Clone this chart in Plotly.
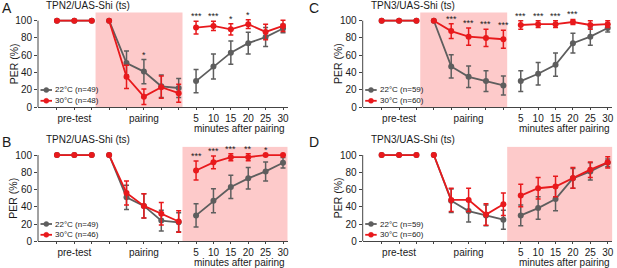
import plotly.graph_objects as go

W, H = 617, 268

# ---------------- data ----------------
pre_x = [0, 1, 2]
pair_x = [3, 4, 5, 6, 7]
post_x = [8, 9, 10, 11, 12, 13]
post_labels = ["5", "10", "15", "20", "25", "30"]

# Panel A: TPN2, silencing during pairing
A_gray_pre = [100, 100, 100]
A_gray_pair = [100, 51, 41, 24, 22]
A_gray_post = [30, 47, 63, 74, 81, 91]
A_gray_pair_err = [0, 14, 14, 13, 11]
A_gray_post_err = [13.5, 14.5, 13.5, 12.5, 11, 5]
A_red_pre = [100, 100, 100]
A_red_pair = [100, 35, 12, 23, 16]
A_red_post = [92, 94, 90, 96, 87, 94]
A_red_pair_err = [0, 13.5, 9, 13, 10.5]
A_red_post_err = [7.5, 5.5, 6.5, 5, 9, 6.5]
A_stars = {5: "*", 8: "***", 9: "***", 10: "*", 11: "*"}

# Panel B: TPN2, silencing after pairing
B_gray_pre = [100, 100, 100]
B_gray_pair = [100, 51, 41, 24, 22]
B_gray_post = [30, 47, 63, 73, 81, 91]
B_gray_pair_err = [0, 14, 14, 12, 11]
B_gray_post_err = [13.5, 14, 13.5, 12.5, 11, 6]
B_red_pre = [100, 100, 100]
B_red_pair = [100, 56, 41, 32, 23]
B_red_post = [82, 91.5, 97.5, 97.5, 100, 100]
B_red_pair_err = [0, 14, 14, 13, 12.5]
B_red_post_err = [11, 7.5, 4, 4, 0, 0]
B_stars = {8: "***", 9: "***", 10: "***", 11: "**", 12: "*"}

# Panel C: TPN3, silencing during pairing
C_gray_pre = [100, 100, 100]
C_gray_pair = [100, 47, 35, 30, 25]
C_gray_post = [30, 38.5, 49, 74, 81.5, 91.5]
C_gray_pair_err = [0, 13.5, 12.5, 12, 11]
C_gray_post_err = [12, 13, 13.5, 11.5, 10, 4.5]
C_red_pre = [100, 100, 100]
C_red_pair = [100, 88, 81.5, 80, 78.5]
C_red_post = [95, 96, 96, 98.5, 95, 96]
C_red_pair_err = [0, 8.5, 10, 10, 10.5]
C_red_post_err = [5, 4, 4, 3, 5, 4]
C_stars = {4: "***", 5: "***", 6: "***", 7: "***", 8: "***", 9: "***", 10: "***", 11: "***"}

# Panel D: TPN3, silencing after pairing
D_gray_pre = [100, 100, 100]
D_gray_pair = [100, 47, 35, 30, 25]
D_gray_post = [30, 38.5, 49, 73, 81, 91]
D_gray_pair_err = [0, 13.5, 12.5, 12, 11]
D_gray_post_err = [12, 13, 13.5, 11.5, 10, 4.5]
D_red_pre = [100, 100, 100]
D_red_pair = [100, 48, 48, 31, 43]
D_red_post = [53, 61.5, 63.5, 73.5, 83, 91.5]
D_red_pair_err = [0, 13.5, 13.5, 12.5, 13]
D_red_post_err = [13, 12.5, 12, 12, 9, 6.5]
D_stars = {}

panels = [
    dict(letter="A", title="TPN2/UAS-Shi (ts)", n_gray=49, n_red=48, shade=(2.22, 7.22),
         gp=A_gray_pre, gpa=A_gray_pair, gpo=A_gray_post, gpae=A_gray_pair_err, gpoe=A_gray_post_err,
         rp=A_red_pre, rpa=A_red_pair, rpo=A_red_post, rpae=A_red_pair_err, rpoe=A_red_post_err,
         stars=A_stars, col=0, row=0),
    dict(letter="B", title="TPN2/UAS-Shi (ts)", n_gray=49, n_red=46, shade=(7.22, 13.27),
         gp=B_gray_pre, gpa=B_gray_pair, gpo=B_gray_post, gpae=B_gray_pair_err, gpoe=B_gray_post_err,
         rp=B_red_pre, rpa=B_red_pair, rpo=B_red_post, rpae=B_red_pair_err, rpoe=B_red_post_err,
         stars=B_stars, col=0, row=1),
    dict(letter="C", title="TPN3/UAS-Shi (ts)", n_gray=59, n_red=60, shade=(2.22, 7.22),
         gp=C_gray_pre, gpa=C_gray_pair, gpo=C_gray_post, gpae=C_gray_pair_err, gpoe=C_gray_post_err,
         rp=C_red_pre, rpa=C_red_pair, rpo=C_red_post, rpae=C_red_pair_err, rpoe=C_red_post_err,
         stars=C_stars, col=1, row=0),
    dict(letter="D", title="TPN3/UAS-Shi (ts)", n_gray=59, n_red=60, shade=(7.22, 13.27),
         gp=D_gray_pre, gpa=D_gray_pair, gpo=D_gray_post, gpae=D_gray_pair_err, gpoe=D_gray_post_err,
         rp=D_red_pre, rpa=D_red_pair, rpo=D_red_post, rpae=D_red_pair_err, rpoe=D_red_post_err,
         stars=D_stars, col=1, row=1),
]

# ---------------- style ----------------
RED = "#e8191c"
GRAY = "#5e5e5e"
PINK = "#fdcaca"
AX = "#444444"
TXT = "#1a1a1a"
FONT = "Liberation Sans, Arial, sans-serif"

XR = [-1.09, 13.27]
YR = [0, 110]
col_px = [(38.0, 287.7), (362.7, 612.4)]
row_px = [(12.07, 107.0), (146.4, 241.3)]  # (top, bottom) pixels
col_off = [0, 307]
row_off = [0, 134]

fig = go.Figure()
shapes, annos = [], []


def px2x(p):
    return p / W


def px2y(p):
    return 1 - p / H


def series(pre, pair, post):
    xs = pre_x + [None] + pair_x + [None] + post_x
    ys = pre + [None] + pair + [None] + post
    return xs, ys


for i, p in enumerate(panels):
    k = "" if i == 0 else str(i + 1)
    xa, ya = "x" + k, "y" + k
    c, r = p["col"], p["row"]
    x0p, x1p = col_px[c]
    ytp, ybp = row_px[r]
    fig.layout["xaxis" + k] = dict(
        domain=[px2x(x0p), px2x(x1p)], range=XR, anchor=ya, automargin=False,
        showline=True, linecolor=AX, linewidth=1, showgrid=False, zeroline=False,
        tickmode="array", tickvals=[1, 5] + post_x + [0, 2, 3, 4, 6, 7],
        ticktext=["pre-test", "pairing"] + post_labels + [""] * 6,
        ticks="outside", ticklen=2, tickcolor=AX, tickwidth=1,
        tickfont=dict(size=10, color=TXT, family=FONT), fixedrange=True,
    )
    fig.layout["yaxis" + k] = dict(
        domain=[px2y(ybp), px2y(ytp)], range=YR, anchor=xa, automargin=False,
        showline=False, showgrid=False, zeroline=False,
        tickmode="array", tickvals=[0, 20, 40, 60, 80, 100],
        ticks="outside", ticklen=3, tickcolor=AX, tickwidth=1,
        tickfont=dict(size=10, color=TXT, family=FONT), fixedrange=True,
    )
    # shading
    shapes.append(dict(type="rect", xref=xa, yref=ya, x0=p["shade"][0], x1=p["shade"][1],
                       y0=0, y1=109.5, fillcolor=PINK, line_width=0, layer="below"))
    # y axis line 0..100
    shapes.append(dict(type="line", xref=xa + " domain", yref=ya, x0=0, x1=0, y0=0, y1=100,
                       line=dict(color=AX, width=1)))
    # traces: gray then red
    for name, pre, pair, post, pe, poe, color in [
        ("gray", p["gp"], p["gpa"], p["gpo"], p["gpae"], p["gpoe"], GRAY),
        ("red", p["rp"], p["rpa"], p["rpo"], p["rpae"], p["rpoe"], RED),
    ]:
        xs, ys = series(pre, pair, post)
        errs = [0] * 3 + [None] + pe + [None] + poe
        fig.add_trace(go.Scatter(
            x=xs, y=ys, xaxis=xa, yaxis=ya, mode="lines+markers", connectgaps=False,
            line=dict(color=color, width=1.8), marker=dict(color=color, size=6),
            error_y=dict(type="data", array=errs, visible=True, color=color, thickness=1.5, width=2.5),
            showlegend=False, hoverinfo="skip",
        ))
    # stars
    all_g = p["gp"] + p["gpa"] + p["gpo"]
    all_ge = [0, 0, 0] + p["gpae"] + p["gpoe"]
    all_r = p["rp"] + p["rpa"] + p["rpo"]
    all_re = [0, 0, 0] + p["rpae"] + p["rpoe"]
    for xi, s in p["stars"].items():
        top = max(all_g[xi] + all_ge[xi], all_r[xi] + all_re[xi])
        annos.append(dict(x=xi, y=top, xref=xa, yref=ya, text=s, showarrow=False,
                          yanchor="bottom", yshift=-2, font=dict(size=9, color=TXT, family=FONT)))
    # silencing label
    annos.append(dict(x=p["shade"][1], y=113.3, xref=xa, yref=ya, text="silencing", showarrow=False,
                      xanchor="right", yanchor="middle", xshift=-1,
                      font=dict(size=9.5, color=RED, family=FONT)))
    # minutes after pairing
    annos.append(dict(x=10.5, y=px2y(ybp + 21.0), xref=xa, yref="paper", text="minutes after pairing",
                      showarrow=False, xanchor="center", yanchor="middle",
                      font=dict(size=10, color=TXT, family=FONT)))
    # panel letter
    annos.append(dict(x=px2x(col_off[c] + 0), y=px2y(row_off[r] + 8.3), xref="paper", yref="paper",
                      text=p["letter"], showarrow=False, xanchor="left", yanchor="middle",
                      font=dict(size=14, color=TXT, family=FONT)))
    # title
    annos.append(dict(x=px2x(x0p + 6.3), y=px2y(row_off[r] + 5.2), xref="paper", yref="paper",
                      text=p["title"], showarrow=False, xanchor="left", yanchor="middle",
                      font=dict(size=10, color=TXT, family=FONT)))
    # y title
    annos.append(dict(x=px2x(x0p - 24.5), y=50, xref="paper", yref=ya, text="PER (%)",
                      textangle=-90, showarrow=False, xanchor="center", yanchor="middle",
                      font=dict(size=10.5, color=TXT, family=FONT)))
    # legend (manual, small key)
    for j, (color, lab) in enumerate([(GRAY, "22\u00b0C (n=%d)" % p["n_gray"]),
                                      (RED, "30\u00b0C (n=%d)" % p["n_red"])]):
        yc = row_off[r] + (90.0 if j == 0 else 100.8)
        lx0 = x0p + 2.5
        shapes.append(dict(type="line", xref="paper", yref="paper", x0=px2x(lx0), x1=px2x(lx0 + 11.5),
                           y0=px2y(yc), y1=px2y(yc), line=dict(color=color, width=1.8)))
        shapes.append(dict(type="circle", xref="paper", yref="paper",
                           x0=px2x(lx0 + 3.3), x1=px2x(lx0 + 8.3), y0=px2y(yc + 2.5), y1=px2y(yc - 2.5),
                           fillcolor=color, line=dict(color=color, width=0.5)))
        annos.append(dict(x=px2x(lx0 + 12.5), y=px2y(yc), xref="paper", yref="paper", text=lab,
                          showarrow=False, xanchor="left", yanchor="middle",
                          font=dict(size=8, color=TXT, family=FONT)))

fig.update_layout(
    width=W, height=H, margin=dict(l=0, r=0, t=0, b=0),
    paper_bgcolor="white", plot_bgcolor="rgba(0,0,0,0)",
    shapes=shapes, annotations=annos, showlegend=False,
    font=dict(family=FONT, color=TXT),
)

fig.write_html("out.html", config={"displayModeBar": False, "staticPlot": True},
               post_script="document.body.style.margin='0';document.body.style.padding='0';"
                           "document.body.style.overflow='hidden';")
